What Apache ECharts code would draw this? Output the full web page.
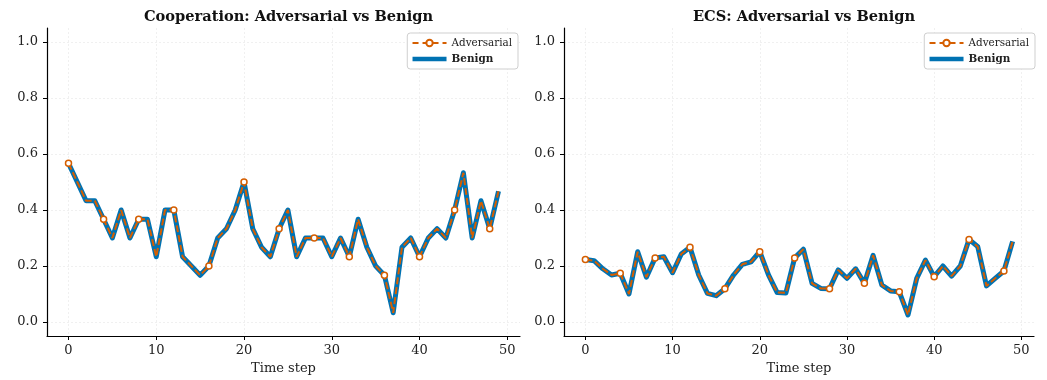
<!DOCTYPE html>
<html><head><meta charset="utf-8">
<script src="https://cdn.jsdelivr.net/npm/echarts@6/dist/echarts.min.js"></script>
<style>html,body{margin:0;padding:0;background:#fff}#c{width:1047px;height:380px}</style>
</head><body><div id="c"></div>
<script>
const steps = Array.from({length: 50}, (_, i) => i);
const coopBenign = [0.567,0.5,0.433,0.433,0.367,0.3,0.4,0.3,0.367,0.367,
  0.233,0.4,0.4,0.233,0.2,0.167,0.2,0.3,0.333,0.4,
  0.5,0.333,0.267,0.233,0.333,0.4,0.233,0.3,0.3,0.3,
  0.233,0.3,0.233,0.367,0.267,0.2,0.167,0.033,0.267,0.3,
  0.233,0.3,0.333,0.3,0.4,0.533,0.3,0.433,0.333,0.467];
const coopAdv = coopBenign.slice();
const ecsBenign = [0.223,0.219,0.19,0.168,0.174,0.1,0.251,0.16,0.229,0.233,
  0.176,0.243,0.267,0.168,0.102,0.094,0.119,0.168,0.206,0.215,
  0.251,0.168,0.105,0.104,0.229,0.26,0.138,0.12,0.119,0.186,
  0.156,0.19,0.138,0.238,0.132,0.111,0.108,0.025,0.156,0.221,
  0.162,0.2,0.164,0.2,0.295,0.269,0.129,0.156,0.182,0.288];
const ecsAdv = ecsBenign.slice();
const titles = ['Cooperation: Adversarial vs Benign', 'ECS: Adversarial vs Benign'];
const yTicks = [0, 0.2, 0.4, 0.6, 0.8, 1.0];
const xTicks = [0, 10, 20, 30, 40, 50];
const markEvery = 4;

const FONT = '"DejaVu Serif", "Liberation Serif", serif';
const BLUE = '#0072B2', ORANGE = '#D55E00';
const grids = [{left: 47, top: 28, width: 473, height: 309}, {left: 564, top: 28, width: 470, height: 309}];
const gridLine = {show: true, lineStyle: {color: '#ececec', width: 0.8, type: [2, 2]}};

function xAxis(i) {
  return {type: 'value', gridIndex: i, min: -2.45, max: 51.45,
    name: 'Time step', nameLocation: 'middle', nameGap: 26,
    nameTextStyle: {fontFamily: FONT, fontSize: 13, color: '#222'},
    axisLine: {onZero: false, lineStyle: {color: '#000', width: 1.2}},
    axisTick: {length: 4, lineStyle: {color: '#000'}, customValues: xTicks},
    axisLabel: {customValues: xTicks, fontFamily: FONT, fontSize: 13, color: '#222', margin: 8},
    splitLine: gridLine};
}
function yAxis(i) {
  return {type: 'value', gridIndex: i, min: -0.05, max: 1.05,
    axisLine: {show: true, onZero: false, lineStyle: {color: '#000', width: 1.2}},
    axisTick: {show: true, length: 4, lineStyle: {color: '#000'}, customValues: yTicks},
    axisLabel: {customValues: yTicks, fontFamily: FONT, fontSize: 13, color: '#222', margin: 9,
      formatter: v => v.toFixed(1)},
    splitLine: gridLine};
}
function benign(vals, i) {
  return {name: 'Benign', type: 'line', xAxisIndex: i, yAxisIndex: i, symbol: 'none',
    data: steps.map((s, k) => [s, vals[k]]),
    lineStyle: {color: BLUE, width: 5, join: 'round'}, itemStyle: {color: BLUE}, z: 2};
}
function adv(vals, i) {
  return {name: 'Adversarial', type: 'line', xAxisIndex: i, yAxisIndex: i,
    symbol: 'circle', symbolSize: 6, showSymbol: true, showAllSymbol: true,
    data: steps.map((s, k) => (k % markEvery === 0) ? {value: [s, vals[k]]} : {value: [s, vals[k]], symbol: 'none'}),
    lineStyle: {color: ORANGE, width: 2, type: [7, 3]},
    itemStyle: {color: '#fff', borderColor: ORANGE, borderWidth: 1.5}, z: 3};
}
function legend(right) {
  return {orient: 'vertical', right: right, top: 33, itemWidth: 34, itemHeight: 8, itemGap: 6,
    padding: [5, 6, 5, 3], borderColor: '#cfcfcf', borderWidth: 1, borderRadius: 3, backgroundColor: '#fff',
    textStyle: {fontFamily: FONT, fontSize: 10.4, color: '#222'},
    data: [{name: 'Adversarial', lineStyle: {color: ORANGE, width: 2, type: [6, 4]}},
      {name: 'Benign', textStyle: {fontWeight: 'bold'}, itemStyle: {opacity: 0}, lineStyle: {color: BLUE, width: 4.5, type: 'solid'}}]};
}

const chart = echarts.init(document.getElementById('c'), null, {renderer: 'canvas'});
chart.setOption({
  animation: false,
  backgroundColor: '#fff',
  title: [
    {text: titles[0], left: 283.5, textAlign: 'center', top: 5, textStyle: {fontFamily: FONT, fontSize: 14.6, fontWeight: 'bold', color: '#111'}},
    {text: titles[1], left: 799, textAlign: 'center', top: 5, textStyle: {fontFamily: FONT, fontSize: 14.6, fontWeight: 'bold', color: '#111'}}
  ],
  grid: grids,
  xAxis: [xAxis(0), xAxis(1)],
  yAxis: [yAxis(0), yAxis(1)],
  legend: [legend(529), legend(12)],
  series: [benign(coopBenign, 0), adv(coopAdv, 0), benign(ecsBenign, 1), adv(ecsAdv, 1)]
});
</script></body></html>
